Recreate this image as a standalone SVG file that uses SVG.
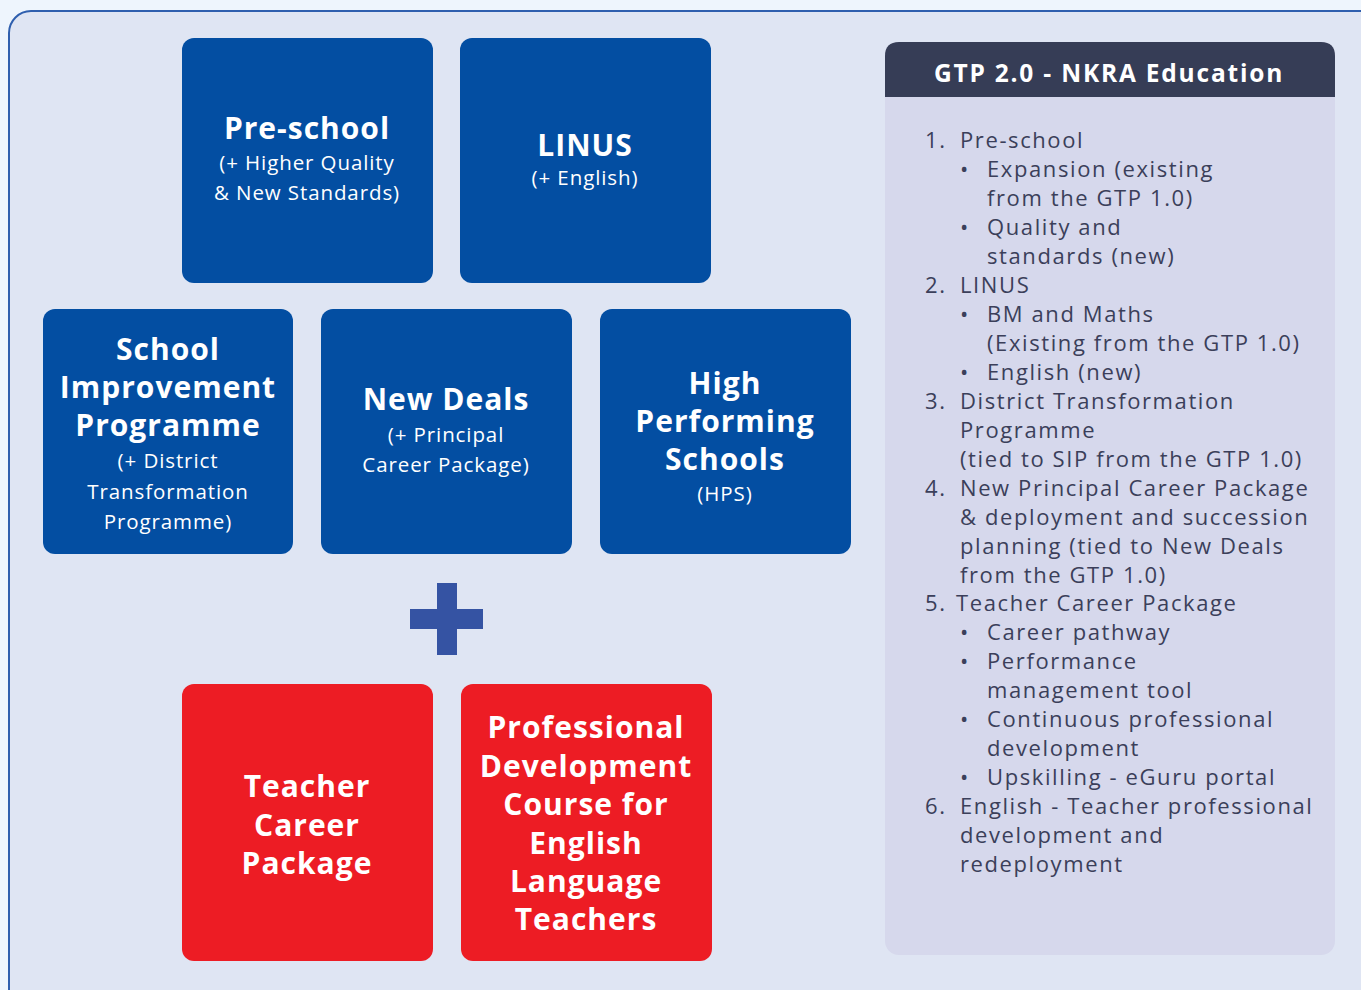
<svg xmlns="http://www.w3.org/2000/svg" width="1361" height="990" viewBox="0 0 1361 990">
<style>
.bg{fill:#eef5fd}
.frame{fill:#dfe5f3;stroke:#2f5fae;stroke-width:2}
.blue{fill:#034ea2}
.red{fill:#ed1c24}
.t{font-family:"Open Sans","Liberation Sans",sans-serif;fill:#ffffff;text-anchor:middle}
.h{font-weight:700;font-size:30px;letter-spacing:1px}
.s{font-weight:400;font-size:20.5px;letter-spacing:0.9px}
.panel{fill:#d6d8ec}
.head{fill:#363d56}
.ht{font-family:"Open Sans","Liberation Sans",sans-serif;font-weight:700;font-size:24.5px;fill:#ffffff;text-anchor:middle;letter-spacing:1.8px}
.l{font-family:"Open Sans","Liberation Sans",sans-serif;font-size:22px;fill:#3b3f5a;letter-spacing:1.6px}
.plus{fill:#3553a3}
</style>
<rect class="bg" x="0" y="0" width="1361" height="990"/>
<rect class="frame" x="9" y="11" width="1420" height="1100" rx="22"/>

<g id="preschool">
<rect class="blue" x="182" y="38" width="251" height="245" rx="12"/>
<text class="t h" x="307" y="139">Pre-school</text>
<text class="t s" x="307" y="170">(+ Higher Quality</text>
<text class="t s" x="307" y="200">&amp; New Standards)</text>
</g>
<g id="linus">
<rect class="blue" x="460" y="38" width="251" height="245" rx="12"/>
<text class="t h" x="585" y="156">LINUS</text>
<text class="t s" x="585" y="185">(+ English)</text>
</g>
<g id="sip">
<rect class="blue" x="43" y="309" width="250" height="245" rx="12"/>
<text class="t h" x="168" y="360">School</text>
<text class="t h" x="168" y="398">Improvement</text>
<text class="t h" x="168" y="436">Programme</text>
<text class="t s" x="168" y="468">(+ District</text>
<text class="t s" x="168" y="499">Transformation</text>
<text class="t s" x="168" y="529">Programme)</text>
</g>
<g id="newdeals">
<rect class="blue" x="321" y="309" width="251" height="245" rx="12"/>
<text class="t h" x="446" y="410">New Deals</text>
<text class="t s" x="446" y="442">(+ Principal</text>
<text class="t s" x="446" y="472">Career Package)</text>
</g>
<g id="hps">
<rect class="blue" x="600" y="309" width="251" height="245" rx="12"/>
<text class="t h" x="725" y="394">High</text>
<text class="t h" x="725" y="432">Performing</text>
<text class="t h" x="725" y="470">Schools</text>
<text class="t s" x="725" y="501">(HPS)</text>
</g>
<g id="plus">
<rect class="plus" x="410" y="609" width="73" height="20"/>
<rect class="plus" x="437" y="583" width="20" height="72"/>
</g>
<g id="teacher">
<rect class="red" x="182" y="684" width="251" height="277" rx="12"/>
<text class="t h" x="307" y="797">Teacher</text>
<text class="t h" x="307" y="836">Career</text>
<text class="t h" x="307" y="874">Package</text>
</g>
<g id="profdev">
<rect class="red" x="461" y="684" width="251" height="277" rx="12"/>
<text class="t h" x="586" y="738">Professional</text>
<text class="t h" x="586" y="777">Development</text>
<text class="t h" x="586" y="815">Course for</text>
<text class="t h" x="586" y="854">English</text>
<text class="t h" x="586" y="892">Language</text>
<text class="t h" x="586" y="930">Teachers</text>
</g>
<g id="connectors"/>

<g id="panel">
<rect class="panel" x="885" y="42" width="450" height="913" rx="14"/>
<path class="head" d="M885,97 V56 Q885,42 899,42 H1321 Q1335,42 1335,56 V97 Z"/>
<text class="ht" x="1109" y="82">GTP 2.0 - NKRA Education</text>
<g class="l">
<text x="925" y="148">1.</text><text x="960" y="148">Pre-school</text>
<text x="960" y="177">•</text><text x="987" y="177">Expansion (existing</text>
<text x="987" y="206">from the GTP 1.0)</text>
<text x="960" y="235">•</text><text x="987" y="235">Quality and</text>
<text x="987" y="264">standards (new)</text>
<text x="925" y="293">2.</text><text x="960" y="293">LINUS</text>
<text x="960" y="322">•</text><text x="987" y="322">BM and Maths</text>
<text x="987" y="351">(Existing from the GTP 1.0)</text>
<text x="960" y="380">•</text><text x="987" y="380">English (new)</text>
<text x="925" y="409">3.</text><text x="960" y="409">District Transformation</text>
<text x="960" y="438">Programme</text>
<text x="960" y="467">(tied to SIP from the GTP 1.0)</text>
<text x="925" y="496">4.</text><text x="960" y="496">New Principal Career Package</text>
<text x="960" y="525">&amp; deployment and succession</text>
<text x="960" y="554">planning (tied to New Deals</text>
<text x="960" y="583">from the GTP 1.0)</text>
<text x="925" y="611">5.</text><text x="956" y="611">Teacher Career Package</text>
<text x="960" y="640">•</text><text x="987" y="640">Career pathway</text>
<text x="960" y="669">•</text><text x="987" y="669">Performance</text>
<text x="987" y="698">management tool</text>
<text x="960" y="727">•</text><text x="987" y="727">Continuous professional</text>
<text x="987" y="756">development</text>
<text x="960" y="785">•</text><text x="987" y="785">Upskilling - eGuru portal</text>
<text x="925" y="814">6.</text><text x="960" y="814">English - Teacher professional</text>
<text x="960" y="843">development and</text>
<text x="960" y="872">redeployment</text>
</g>
</g>
</svg>
